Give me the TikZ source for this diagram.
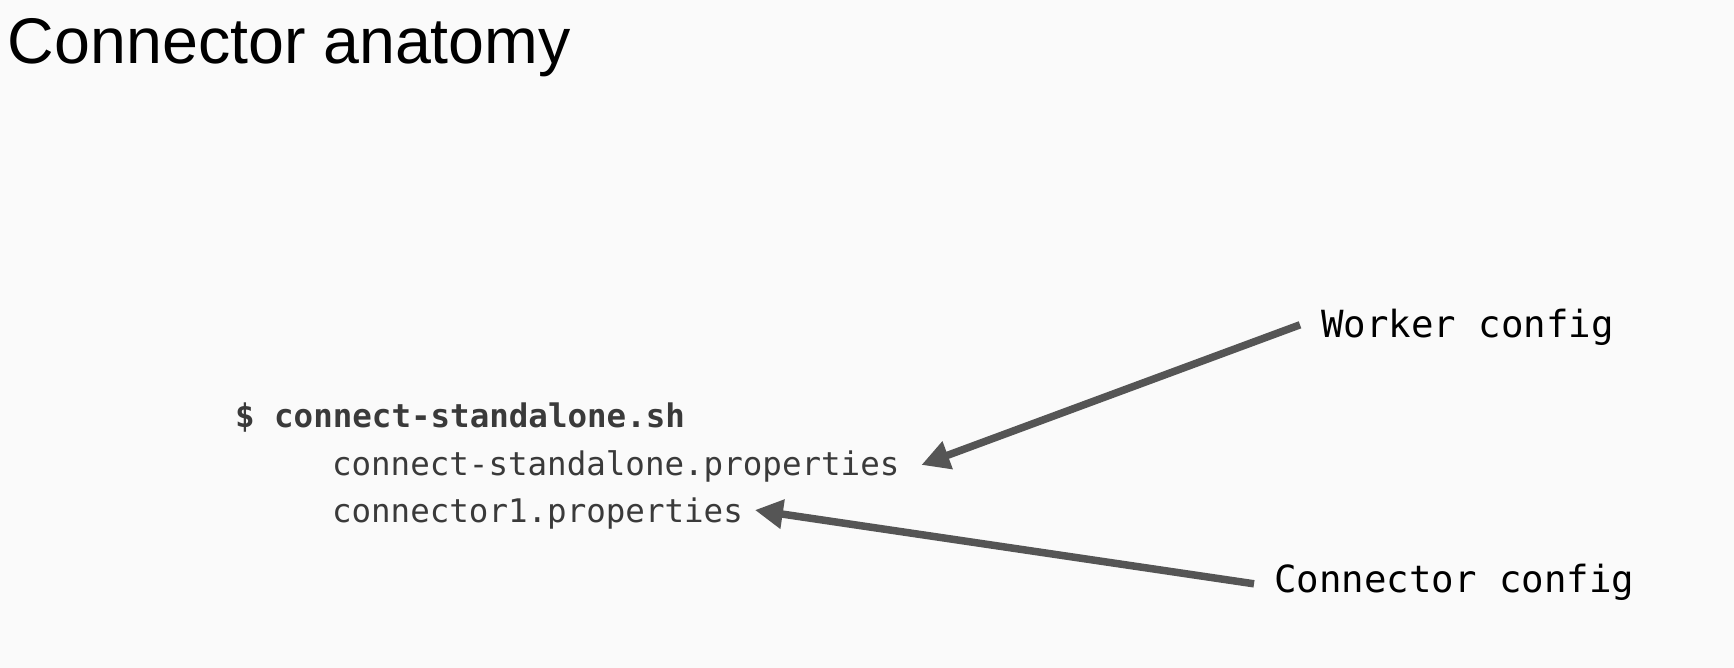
\documentclass[tikz,border=0pt]{standalone}
\usepackage{fontspec}
\setmainfont{Liberation Sans}
\newfontfamily\codefont{DejaVu Sans Mono}
\usetikzlibrary{arrows.meta}
\definecolor{bgcol}{HTML}{FAFAFA}
\definecolor{codecol}{HTML}{3A3A3A}
\definecolor{arrowcol}{HTML}{555555}
\begin{document}
\begin{tikzpicture}[x=1pt,y=1pt,
  txt/.style={inner sep=0pt, outer sep=0pt, anchor=base west},
  codeline/.style={txt, text=codecol, font=\codefont\fontsize{32.5}{39}\selectfont},
  label/.style={txt, text=black, font=\codefont\fontsize{37.4}{45}\selectfont},
  pointer/.style={draw=arrowcol, line width=7.5pt, line cap=butt,
    -{Triangle[length=28pt,width=28pt]}}]
\fill[bgcol] (0,0) rectangle (1734,-668);
\useasboundingbox (0,0) rectangle (1734,-668);
\node[txt, font=\fontsize{64.5}{78}\selectfont] (title) at (8,-64) {Connector anatomy};
\node[codeline, font=\codefont\bfseries\fontsize{32.5}{39}\selectfont] (cmd) at (235,-427) {\$ connect-standalone.sh};
\node[codeline] (csprop) at (332,-475) {connect-standalone.properties};
\node[codeline] (c1prop) at (332,-522) {connector1.properties};
\node[label] (worker) at (1321,-337) {Worker config};
\node[label] (ccfg) at (1274,-592) {Connector config};
\draw[pointer] ([xshift=-21pt,yshift=2pt]worker.west) -- ([xshift=22pt,yshift=1pt]csprop.east);
\draw[pointer] ([xshift=-20pt,yshift=-2pt]ccfg.west) -- ([xshift=12pt,yshift=3pt]c1prop.east);
\end{tikzpicture}
\end{document}
